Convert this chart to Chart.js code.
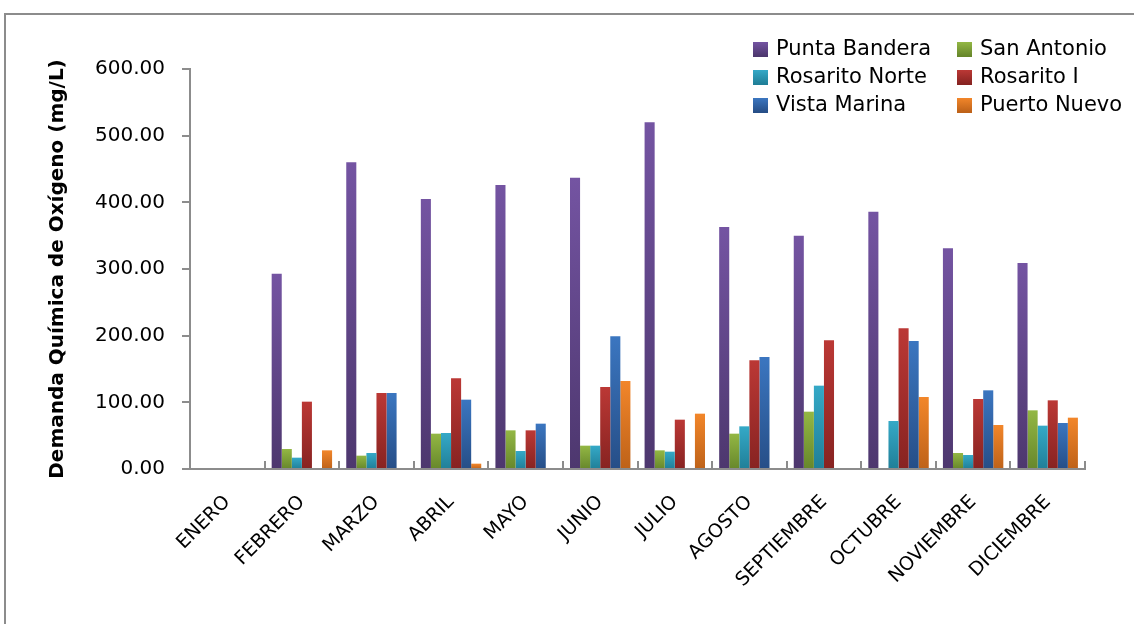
<!DOCTYPE html>
<html>
<head>
<meta charset="utf-8">
<script src="https://cdn.jsdelivr.net/npm/chart.js@4.4.0/dist/chart.umd.min.js"></script>
<style>
  html, body { margin: 0; padding: 0; background: #fff; overflow: hidden; }
  #frame { position: absolute; left: 4px; top: 13px; width: 2000px; height: 2000px; border: 2px solid #8c8c8c; }
  #myChart { position: absolute; left: 0; top: 0; }
</style>
</head>
<body>
<div id="frame"></div>
<canvas id="myChart" width="1134" height="624"></canvas>
<script>
// months and values (mg/L)
var months = ["ENERO", "FEBRERO", "MARZO", "ABRIL", "MAYO", "JUNIO", "JULIO", "AGOSTO", "SEPTIEMBRE", "OCTUBRE", "NOVIEMBRE", "DICIEMBRE"];
var puntaBandera  = [null, 293, 460, 405, 426, 437, 520, 363, 350, 386, 331, 309];
var sanAntonio    = [null, 30, 20, 53, 58, 35, 28, 53, 86, null, 24, 88];
var rosaritoNorte = [null, 17, 24, 54, 27, 35, 26, 64, 125, 72, 21, 65];
var rosaritoI     = [null, 101, 114, 136, 58, 123, 74, 163, 193, 211, 105, 103];
var vistaMarina   = [null, null, 114, 104, 68, 199, null, 168, null, 192, 118, 69];
var puertoNuevo   = [null, 28, null, 8, null, 132, 83, null, null, 108, 66, 77];
var yMin = 0, yMax = 600, yStep = 100;

var FONT = "'DejaVu Sans', sans-serif";

// light top / dark bottom, like the office gradient fill
function barFill(top, bottom) {
    return function (c) {
        var chart = c.chart;
        if (!chart.chartArea || c.raw == null) return bottom;
        var ys = chart.scales.y;
        var g = chart.ctx.createLinearGradient(0, ys.getPixelForValue(c.raw), 0, ys.getPixelForValue(0));
        g.addColorStop(0, top);
        g.addColorStop(1, bottom);
        return g;
    };
}

var series = [
    { label: "Punta Bandera",  data: puntaBandera,  top: "#7454a2", bottom: "#4d376e" },
    { label: "San Antonio",    data: sanAntonio,    top: "#93b744", bottom: "#67872b" },
    { label: "Rosarito Norte", data: rosaritoNorte, top: "#35a9c7", bottom: "#207f98" },
    { label: "Rosarito I",     data: rosaritoI,     top: "#bb3835", bottom: "#872321" },
    { label: "Vista Marina",   data: vistaMarina,   top: "#3b76c0", bottom: "#264e87" },
    { label: "Puerto Nuevo",   data: puertoNuevo,   top: "#f2862a", bottom: "#be6219" }
];

// legend in two columns, top right
var legendPlugin = {
    id: "gridLegend",
    afterDraw: function (chart) {
        var ctx = chart.ctx;
        var cols = [753, 957], rows = [49, 77, 105];
        ctx.save();
        ctx.font = "21px " + FONT;
        ctx.textBaseline = "middle";
        series.forEach(function (s, i) {
            var x = cols[i % 2], y = rows[Math.floor(i / 2)];
            var g = ctx.createLinearGradient(0, y - 7, 0, y + 7);
            g.addColorStop(0, s.top);
            g.addColorStop(1, s.bottom);
            ctx.fillStyle = g;
            ctx.fillRect(x, y - 7, 15, 15);
            ctx.fillStyle = "#000";
            ctx.fillText(s.label, x + 23, y + 1);
        });
        ctx.restore();
    }
};

// small marks between categories, pointing up from the axis
var catMarks = {
    id: "catMarks",
    afterDatasetsDraw: function (chart) {
        var xs = chart.scales.x, ctx = chart.ctx;
        var step = xs.width / months.length;
        ctx.save();
        ctx.strokeStyle = "#8c8c8c";
        ctx.lineWidth = 2;
        for (var i = 1; i <= months.length; i++) {
            var x = Math.round(xs.left + i * step);
            ctx.beginPath();
            ctx.moveTo(x, xs.top);
            ctx.lineTo(x, xs.top - 8);
            ctx.stroke();
        }
        ctx.restore();
    }
};

function renderChart() {
    var ctx = document.getElementById("myChart").getContext("2d");
    new Chart(ctx, {
        type: "bar",
        data: {
            labels: months,
            datasets: series.map(function (s) {
                return {
                    label: s.label,
                    data: s.data,
                    backgroundColor: barFill(s.top, s.bottom),
                    categoryPercentage: 0.81,
                    barPercentage: 1.0
                };
            })
        },
        options: {
            responsive: false,
            animation: false,
            layout: { padding: { left: 46, top: 69, right: 49, bottom: 0 } },
            plugins: {
                legend: { display: false },
                tooltip: { enabled: false }
            },
            scales: {
                x: {
                    grid: { display: false },
                    border: { color: "#8c8c8c", width: 2 },
                    ticks: {
                        autoSkip: false,
                        minRotation: 45,
                        maxRotation: 45,
                        padding: 14,
                        color: "#000",
                        font: { family: FONT, size: 19 }
                    },
                    afterFit: function (scale) { scale.height = 155; }
                },
                y: {
                    min: yMin,
                    max: yMax,
                    grid: { drawOnChartArea: false, drawTicks: true, tickLength: 8, color: "#8c8c8c", lineWidth: 2 },
                    border: { color: "#8c8c8c", width: 2 },
                    ticks: {
                        stepSize: yStep,
                        padding: 17,
                        color: "#000",
                        font: { family: FONT, size: 20 },
                        callback: function (v) { return v.toFixed(2); }
                    },
                    title: {
                        display: true,
                        text: "Demanda Química de Oxígeno (mg/L)",
                        color: "#000",
                        font: { family: FONT, size: 20, weight: "bold" },
                        padding: { top: 0, bottom: 0 }
                    },
                    afterFit: function (scale) { scale.width = 144; }
                }
            }
        },
        plugins: [legendPlugin, catMarks]
    });
}

renderChart();
</script>
</body>
</html>
